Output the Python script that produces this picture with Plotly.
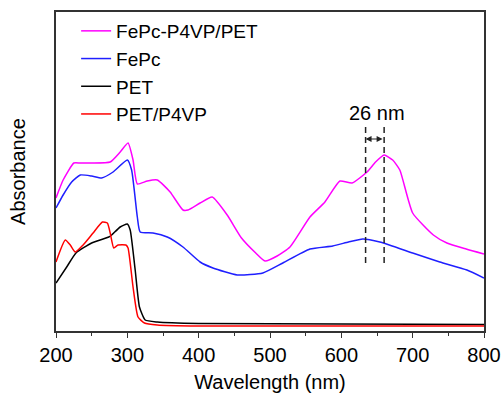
import plotly.graph_objects as go

# Wavelength (nm) / absorbance (a.u.)
wl_mag = [200, 210, 225, 234, 250, 276, 290, 301, 308, 314, 328, 342, 360, 378, 385, 402, 419, 440, 460, 480, 493, 510, 528, 556, 577, 598, 615, 636, 648, 660, 672, 682, 700, 729, 748, 775, 800]
ab_mag = [1.33, 1.51, 1.68, 1.68, 1.68, 1.69, 1.79, 1.88, 1.71, 1.47, 1.50, 1.51, 1.39, 1.21, 1.21, 1.28, 1.34, 1.16, 0.93, 0.78, 0.70, 0.75, 0.84, 1.14, 1.29, 1.50, 1.48, 1.59, 1.69, 1.76, 1.71, 1.61, 1.18, 0.96, 0.88, 0.82, 0.77]

wl_blue = [200, 210, 222, 234, 250, 264, 280, 300, 306, 314, 318, 336, 356, 378, 402, 420, 454, 490, 518, 556, 588, 610, 630, 654, 700, 738, 776, 800]
ab_blue = [1.23, 1.36, 1.49, 1.56, 1.55, 1.53, 1.59, 1.71, 1.61, 1.14, 0.99, 0.98, 0.94, 0.84, 0.69, 0.63, 0.56, 0.58, 0.68, 0.82, 0.85, 0.89, 0.92, 0.89, 0.78, 0.69, 0.61, 0.53]

wl_pet = [200, 215, 228, 250, 274, 278, 290, 300, 304, 311, 317, 325, 342, 400, 600, 800]
ab_pet = [0.48, 0.64, 0.78, 0.88, 0.94, 0.96, 1.04, 1.07, 1.01, 0.61, 0.24, 0.11, 0.09, 0.075, 0.07, 0.065]

wl_red = [200, 213, 220, 227, 238, 252, 265, 272, 276, 281, 287, 298, 301, 308, 315, 324, 342, 400, 800]
ab_red = [0.69, 0.91, 0.86, 0.79, 0.86, 0.98, 1.09, 1.08, 0.98, 0.83, 0.86, 0.86, 0.83, 0.44, 0.14, 0.08, 0.06, 0.05, 0.05]

names = ["FePc-P4VP/PET", "FePc", "PET", "PET/P4VP"]
colors = ["#FF00FF", "#1F1FFF", "#000000", "#FF0000"]

peak_fepc = 634
peak_hybrid = 660
dash_top = 2.06
dash_bottom = 0.68
arrow_y = 1.92
shift_label = "26 nm"

font = "Liberation Sans, Arial, sans-serif"

fig = go.Figure()
for wl, ab, n, c in zip([wl_mag, wl_blue, wl_pet, wl_red], [ab_mag, ab_blue, ab_pet, ab_red], names, colors):
    fig.add_trace(go.Scatter(x=wl, y=ab, mode="lines", name=n,
                             line=dict(color=c, width=1.5, shape="spline", smoothing=0.5)))

for xv in [peak_fepc, peak_hybrid]:
    fig.add_shape(type="line", x0=xv, x1=xv, y0=dash_bottom, y1=dash_top,
                  line=dict(color="#222222", width=1.5, dash="6px,4px"))

fig.add_annotation(x=peak_fepc, y=arrow_y, ax=peak_hybrid, ay=arrow_y, xref="x", yref="y",
                   axref="x", ayref="y", text="", showarrow=True, arrowhead=2, arrowside="start+end",
                   arrowsize=1, arrowwidth=1.2, arrowcolor="#222222")
fig.add_annotation(x=(peak_fepc + peak_hybrid) / 2 + 3, y=arrow_y, text=shift_label, showarrow=False,
                   yshift=26, font=dict(size=20, color="black", family=font))

fig.update_layout(
    width=502, height=396,
    margin=dict(l=56, r=18, t=12, b=65),
    paper_bgcolor="white", plot_bgcolor="white",
    font=dict(family=font, size=20, color="black"),
    showlegend=True,
    legend=dict(x=0.047, y=1.0, xanchor="left", yanchor="top", bgcolor="rgba(0,0,0,0)",
                font=dict(size=19, family=font), tracegroupgap=0, itemwidth=30),
    xaxis=dict(range=[200, 800], dtick=100, tick0=200, ticks="outside", ticklen=5, tickwidth=1.2,
               tickcolor="#333", showline=True, linecolor="#333", linewidth=1.5, mirror=True,
               showgrid=False, zeroline=False, automargin=False,
               minor=dict(dtick=50, ticks="outside", ticklen=3, tickcolor="#333", showgrid=False),
               title=dict(text="Wavelength (nm)", font=dict(size=20), standoff=10),
               tickfont=dict(size=20)),
    yaxis=dict(range=[0, 3.19], showticklabels=False, ticks="", showline=True, linecolor="#333",
               linewidth=1.5, mirror=True, showgrid=False, zeroline=False, automargin=False,
               title=dict(text="Absorbance", font=dict(size=20), standoff=23)),
)

# remove the default page margin so the 502x396 figure fills the window exactly
fig.write_html("out.html", config={"displayModeBar": False},
               post_script="document.body.style.margin='0';document.body.style.overflow='hidden';")
